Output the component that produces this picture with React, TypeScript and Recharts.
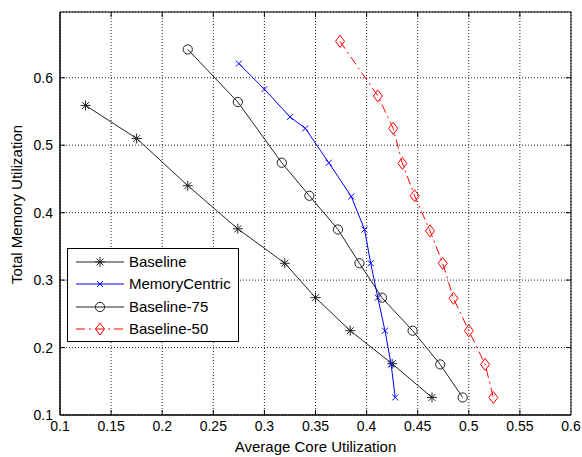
import React from "react";
import {
  LineChart,
  Line,
  XAxis,
  YAxis,
  CartesianGrid,
  Legend,
  ReferenceArea,
  ReferenceLine,
} from "recharts";

const xTicks = [0.1, 0.15, 0.2, 0.25, 0.3, 0.35, 0.4, 0.45, 0.5, 0.55, 0.6];
const yTicks = [0.1, 0.2, 0.3, 0.4, 0.5, 0.6];

const baselineX = [0.125, 0.175, 0.225, 0.274, 0.32, 0.35, 0.384, 0.425, 0.464];
const baselineY = [0.559, 0.51, 0.44, 0.376, 0.325, 0.274, 0.225, 0.176, 0.126];

const memoryX = [0.275, 0.3, 0.325, 0.34, 0.363, 0.385, 0.398, 0.404, 0.411, 0.418, 0.424, 0.428];
const memoryY = [0.621, 0.583, 0.542, 0.525, 0.474, 0.424, 0.375, 0.325, 0.274, 0.225, 0.175, 0.126];

const base75X = [0.225, 0.274, 0.317, 0.344, 0.372, 0.393, 0.415, 0.445, 0.472, 0.494];
const base75Y = [0.642, 0.564, 0.474, 0.425, 0.375, 0.325, 0.274, 0.225, 0.175, 0.126];

const base50X = [0.374, 0.411, 0.426, 0.435, 0.447, 0.462, 0.4745, 0.485, 0.5, 0.516, 0.524];
const base50Y = [0.654, 0.573, 0.525, 0.473, 0.425, 0.373, 0.325, 0.273, 0.225, 0.175, 0.126];

const X_MIN = 0.1;
const X_MAX = 0.6;
const Y_MIN = 0.1;
const Y_MAX = 0.6975;

const FONT = "Arial, 'Liberation Sans', Helvetica, sans-serif";

const zip = (xs: number[], ys: number[]) => xs.map((x, i) => ({ x, y: ys[i] }));

type Marker = "star" | "cross" | "circle" | "diamond";

function MarkerShape({ cx, cy, kind, color }: { cx: number; cy: number; kind: Marker; color: string }) {
  if (kind === "star") {
    return (
      <g stroke={color} strokeWidth={1} fill="none">
        <line x1={cx - 5} y1={cy} x2={cx + 5} y2={cy} />
        <line x1={cx} y1={cy - 5} x2={cx} y2={cy + 5} />
        <line x1={cx - 3.5} y1={cy - 3.5} x2={cx + 3.5} y2={cy + 3.5} />
        <line x1={cx - 3.5} y1={cy + 3.5} x2={cx + 3.5} y2={cy - 3.5} />
      </g>
    );
  }
  if (kind === "cross") {
    return (
      <g stroke={color} strokeWidth={1} fill="none">
        <line x1={cx - 3} y1={cy - 3} x2={cx + 3} y2={cy + 3} />
        <line x1={cx - 3} y1={cy + 3} x2={cx + 3} y2={cy - 3} />
      </g>
    );
  }
  if (kind === "circle") {
    return <circle cx={cx} cy={cy} r={4.6} stroke={color} strokeWidth={1} fill="none" />;
  }
  return (
    <path
      d={`M${cx},${cy - 6} L${cx + 4.5},${cy} L${cx},${cy + 6} L${cx - 4.5},${cy} Z`}
      stroke={color}
      strokeWidth={1}
      fill="none"
    />
  );
}

const series = [
  { name: "Baseline", data: zip(baselineX, baselineY), color: "#222", marker: "star" as Marker, dash: undefined },
  { name: "MemoryCentric", data: zip(memoryX, memoryY), color: "#0000ff", marker: "cross" as Marker, dash: undefined },
  { name: "Baseline-75", data: zip(base75X, base75Y), color: "#222", marker: "circle" as Marker, dash: undefined },
  { name: "Baseline-50", data: zip(base50X, base50Y), color: "#ff0000", marker: "diamond" as Marker, dash: "9 4 2 4" },
];

function MatlabLegend() {
  return (
    <div
      style={{
        width: 172,
        height: 94,
        border: "1px solid #000",
        background: "#fff",
        fontFamily: FONT,
        fontSize: 15,
        color: "#000",
        paddingTop: 2,
        boxSizing: "border-box",
      }}
    >
      {series.map((s) => (
        <div key={s.name} style={{ display: "flex", alignItems: "center", height: 22.3 }}>
          <svg width={60} height={22} style={{ display: "block" }}>
            <line x1={8} y1={11} x2={56} y2={11} stroke={s.color} strokeWidth={1} strokeDasharray={s.dash} />
            <MarkerShape cx={32} cy={11} kind={s.marker} color={s.color} />
          </svg>
          <span style={{ marginLeft: 1, lineHeight: "22px" }}>{s.name}</span>
        </div>
      ))}
    </div>
  );
}

const fmt = (v: number) => String(Number(v.toFixed(2)));

const tickStyle = { fontSize: 14, fill: "#000", fontFamily: FONT };
const xTickLen = 5 / 1021;
const yTickLen = 5 / 673;

export default function App() {
  return (
    <div style={{ position: "absolute", left: 0, top: 0, background: "#fff" }}>
      <LineChart width={582} height={457} margin={{ top: 12, right: 11, left: 10, bottom: 0 }}>
        <CartesianGrid stroke="#222" strokeDasharray="1 2" />
        <XAxis
          type="number"
          dataKey="x"
          domain={[X_MIN, X_MAX]}
          ticks={xTicks}
          tickFormatter={fmt}
          allowDataOverflow
          height={42}
          tickLine={false}
          tickSize={0}
          tickMargin={6}
          axisLine={{ stroke: "#000" }}
          tick={tickStyle}
          interval={0}
          label={{
            value: "Average Core Utilization",
            position: "insideBottom",
            offset: 5,
            style: { fontSize: 15, fill: "#000", fontFamily: FONT },
          }}
        />
        <YAxis
          type="number"
          dataKey="y"
          domain={[Y_MIN, Y_MAX]}
          ticks={yTicks}
          tickFormatter={fmt}
          allowDataOverflow
          width={50}
          tickLine={false}
          tickSize={0}
          tickMargin={7}
          axisLine={{ stroke: "#000" }}
          tick={tickStyle}
          interval={0}
          label={{
            content: (p: any) => {
              const vb = p.viewBox || { x: 10, y: 12, width: 50, height: 403 };
              const cy = vb.y + vb.height / 2 - 9;
              return (
                <text
                  transform={`translate(22, ${cy}) rotate(-90)`}
                  textAnchor="middle"
                  style={{ fontSize: 15, fill: "#000", fontFamily: FONT }}
                >
                  Total Memory Utilization
                </text>
              );
            },
          }}
        />
        <ReferenceArea
          x1={X_MIN}
          x2={X_MAX}
          y1={Y_MIN}
          y2={Y_MAX}
          fill="none"
          stroke="#000"
          strokeWidth={1}
          ifOverflow="extendDomain"
        />
        {xTicks.slice(1, -1).map((t) => (
          <ReferenceLine
            key={`bx${t}`}
            segment={[{ x: t, y: Y_MIN }, { x: t, y: Y_MIN + yTickLen }]}
            stroke="#000"
          />
        ))}
        {xTicks.slice(1, -1).map((t) => (
          <ReferenceLine
            key={`tx${t}`}
            segment={[{ x: t, y: Y_MAX }, { x: t, y: Y_MAX - yTickLen }]}
            stroke="#000"
          />
        ))}
        {yTicks.slice(1).map((t) => (
          <ReferenceLine
            key={`ly${t}`}
            segment={[{ x: X_MIN, y: t }, { x: X_MIN + xTickLen, y: t }]}
            stroke="#000"
          />
        ))}
        {yTicks.slice(1).map((t) => (
          <ReferenceLine
            key={`ry${t}`}
            segment={[{ x: X_MAX, y: t }, { x: X_MAX - xTickLen, y: t }]}
            stroke="#000"
          />
        ))}
        {series.map((s) => (
          <Line
            key={s.name}
            data={s.data}
            dataKey="y"
            name={s.name}
            type="linear"
            stroke={s.color}
            strokeWidth={1}
            strokeDasharray={s.dash}
            isAnimationActive={false}
            activeDot={false}
            dot={(p: any) => (
              <MarkerShape key={`${s.name}-${p.index}`} cx={p.cx} cy={p.cy} kind={s.marker} color={s.color} />
            )}
          />
        ))}
        <Legend
          layout="vertical"
          align="center"
          verticalAlign="middle"
          wrapperStyle={{ left: 67, top: 248, width: 172, height: 94 }}
          content={() => <MatlabLegend />}
        />
      </LineChart>
    </div>
  );
}
